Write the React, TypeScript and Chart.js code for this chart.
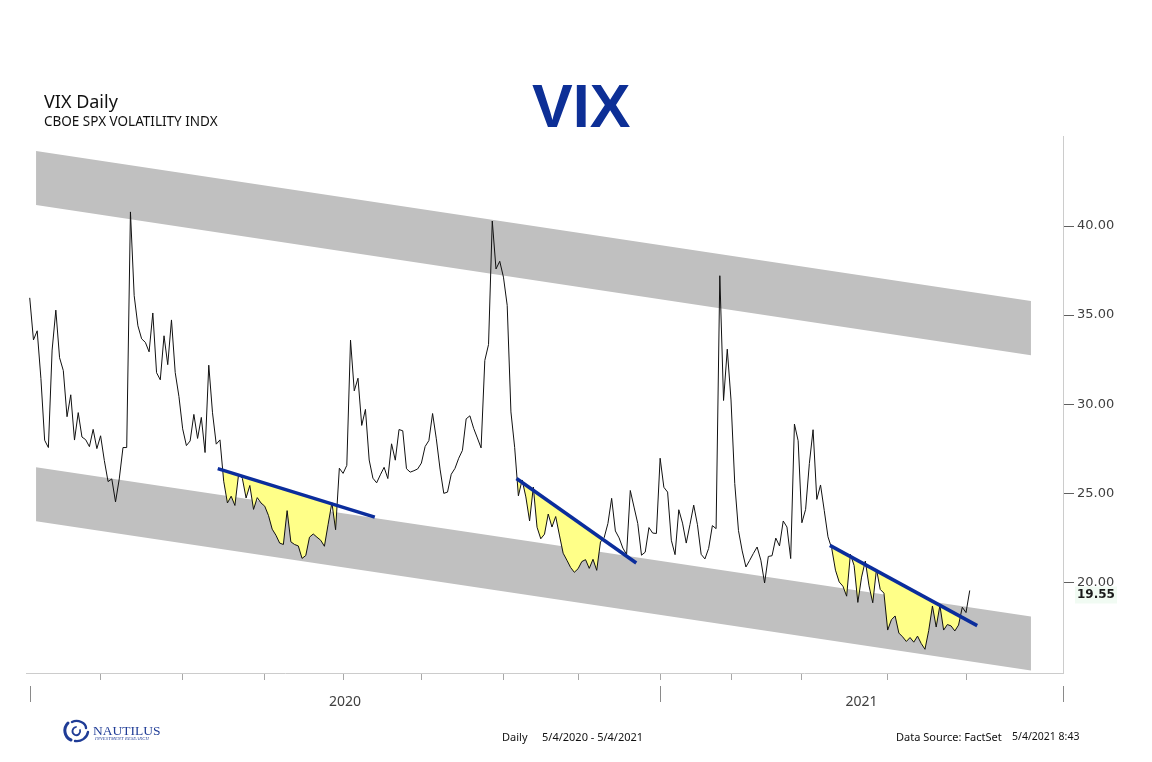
import { useEffect, useRef } from "react";
import { Chart, registerables } from "chart.js";

Chart.register(...registerables);

// VIX daily closes, 5/4/2020 .. 5/4/2021 (one value per trading day)
const vix = [
  35.97, 33.61, 34.12, 31.44, 27.98, 27.57, 33.04, 35.28, 32.61, 31.89,
  29.3, 30.53, 27.99, 29.53, 28.16, 28.01, 27.62, 28.59, 27.51,
  28.23, 26.84, 25.66, 25.81, 24.52, 25.81, 27.57, 27.57, 40.79, 36.09,
  34.4, 33.67, 33.47, 32.94, 35.12, 31.77, 31.37, 33.84, 32.22, 34.73,
  31.78, 30.43,
  28.62, 27.68, 27.94, 29.43, 28.08, 29.26, 27.29, 32.19, 29.52, 27.76,
  28.0, 25.68, 24.46, 24.84, 24.32, 26.08, 25.84, 24.74, 25.44, 24.1,
  24.76, 24.46,
  24.28, 23.76, 22.99, 22.65, 22.21, 22.13, 24.03, 22.28, 22.13, 22.05,
  21.35, 21.51, 22.54, 22.72, 22.54, 22.37, 22.03, 23.27, 24.47, 22.96,
  26.41,
  26.12, 26.57, 33.6, 30.75, 31.46, 28.81, 29.71, 26.87, 25.85, 25.59,
  26.04, 26.46, 25.83, 27.78, 26.86, 28.58, 28.51, 26.38, 26.19, 26.27,
  26.37,
  26.7, 27.63, 27.96, 29.48, 28.06, 26.36, 25.0, 25.07, 26.07, 26.4,
  26.97, 27.41, 29.18, 29.35, 28.65, 28.11, 27.55, 32.46, 33.35, 40.28,
  37.59, 38.02,
  37.13, 35.55, 29.57, 27.58, 24.86, 25.75, 24.8, 23.45, 25.35, 23.1,
  22.45, 22.71, 23.84, 23.11, 23.7, 22.66, 21.64, 21.25, 20.84, 20.57,
  20.77, 21.17, 21.28, 20.79, 21.3, 20.68, 22.27, 22.52, 23.31, 24.72,
  22.89, 22.5, 21.93, 21.57, 25.16, 24.23, 23.31, 21.53, 21.7, 23.08,
  22.77, 22.75,
  26.97, 25.34, 25.07, 22.37, 21.56, 24.08, 23.33, 22.21, 23.25, 24.34,
  23.24, 21.58, 21.32, 21.91, 23.19, 23.02, 37.21, 30.21, 33.09,
  30.24, 25.56, 22.91, 21.77, 20.87, 21.24, 21.63, 21.99, 21.25, 19.97,
  21.46, 21.5, 22.49, 22.05, 23.45, 23.11, 21.34, 28.89, 27.95,
  23.35, 24.1, 26.67, 28.57, 24.66, 25.47, 24.03, 22.56, 21.91, 20.69,
  20.03, 19.79, 19.23, 21.58, 20.95, 18.88, 20.3, 21.2, 19.81, 18.86,
  20.74, 19.61, 19.4,
  17.33, 17.91, 18.12, 17.16, 16.95, 16.69, 16.91, 16.65, 16.99, 16.57,
  16.25, 17.3, 18.68, 17.5, 18.71, 17.33, 17.64, 17.56, 17.28, 17.61,
  18.61,
  18.31, 19.55,
];

// trading days per month, May 2020 .. May 2021
const daysPerMonth = [19, 22, 22, 21, 21, 22, 20, 22, 19, 19, 23, 21, 2];
const yearLabels = ["2020", "2021"];
const yTicks = [20, 25, 30, 35, 40];

// channel bands [x index, value] for the two edges
const upperBandTop = [[1.7, 44.21], [268.4, 35.79]];
const upperBandBottom = [[1.7, 41.18], [268.4, 32.75]];
const lowerBandTop = [[1.7, 26.46], [268.4, 18.09]];
const lowerBandBottom = [[1.7, 23.43], [268.4, 15.06]];

// trendlines [x index, value]
const trend1 = [[50.4, 26.39], [92.5, 23.67]];
const trend2 = [[130.5, 25.83], [162.6, 21.09]];
const trend3 = [[214.5, 22.08], [254.0, 17.58]];

const X_MIN = -1;
const X_MAX = 277;

const monthStarts: number[] = [];
daysPerMonth.slice(0, -1).reduce((acc, d) => {
  monthStarts.push(acc + d);
  return acc + d;
}, 0);
const yearBreaks = [0, monthStarts[7], X_MAX];

const pts = (arr: number[][]) => arr.map(([x, y]) => ({ x, y }));
const vixPts = vix.map((y, x) => ({ x, y }));
const slicePts = (t: number[][]) =>
  vixPts.slice(Math.floor(t[0][0]), Math.min(vix.length, Math.ceil(t[1][0]) + 1));

const GRAY = "#c0c0c0";
const YELLOW = "#ffff88";
const BLUE = "#0b2d9c";
const NONE = "rgba(0,0,0,0)";

const edge = (data: any, fill: any, bg = GRAY) => ({
  data,
  borderColor: NONE,
  borderWidth: 0,
  backgroundColor: bg,
  pointRadius: 0,
  fill,
  order: 10,
});

const trend = (data: any) => ({
  data,
  borderColor: BLUE,
  borderWidth: 3.5,
  pointRadius: 0,
  fill: false,
  order: 1,
});

const fillTo = (data: any, target: number) => ({
  data,
  borderColor: NONE,
  borderWidth: 0,
  pointRadius: 0,
  backgroundColor: YELLOW,
  fill: { target, above: NONE, below: YELLOW },
  order: 5,
});

const overlayPlugin = {
  id: "overlay",
  afterDraw(chart: any) {
    const { ctx, chartArea, scales } = chart;
    const x = scales.x;
    const y = scales.y;
    ctx.save();
    // year separators and labels
    ctx.strokeStyle = "#8a8a8a";
    ctx.lineWidth = 1;
    yearBreaks.forEach((v) => {
      const px = Math.round(x.getPixelForValue(v)) + 0.5;
      ctx.beginPath();
      ctx.moveTo(px, chartArea.bottom + 13);
      ctx.lineTo(px, chartArea.bottom + 29);
      ctx.stroke();
    });
    ctx.fillStyle = "#404040";
    ctx.font = "14px 'Noto Sans'";
    ctx.textAlign = "center";
    ctx.textBaseline = "middle";
    yearLabels.forEach((lab, i) => {
      const mid = (x.getPixelForValue(yearBreaks[i]) + x.getPixelForValue(yearBreaks[i + 1])) / 2;
      ctx.fillText(lab, mid, chartArea.bottom + 29);
    });
    // last value tag
    const last = vix[vix.length - 1];
    const py = y.getPixelForValue(last);
    ctx.fillStyle = "#f1fbf3";
    ctx.fillRect(chartArea.right + 12, py - 4, 42, 17);
    ctx.fillStyle = "#1a1a1a";
    ctx.font = "bold 12px 'DejaVu Sans'";
    ctx.textAlign = "left";
    ctx.fillText(last.toFixed(2), chartArea.right + 14, py + 4.5);
    ctx.restore();
  },
};

export default function App() {
  const canvasRef = useRef<HTMLCanvasElement>(null);
  const chartRef = useRef<Chart | null>(null);

  useEffect(() => {
    document.body.style.margin = "0";
    if (!canvasRef.current) return;
    if (chartRef.current) chartRef.current.destroy();
    const ctx = canvasRef.current.getContext("2d");
    if (!ctx) return;

    chartRef.current = new Chart(ctx, {
      type: "line",
      data: {
        datasets: [
          edge(pts(upperBandTop), false),
          edge(pts(upperBandBottom), "-1"),
          edge(pts(lowerBandTop), false),
          edge(pts(lowerBandBottom), "-1"),
          trend(pts(trend1)),
          fillTo(slicePts(trend1), 4),
          trend(pts(trend2)),
          fillTo(slicePts(trend2), 6),
          trend(pts(trend3)),
          fillTo(slicePts(trend3), 8),
          {
            data: vixPts,
            borderColor: "#111111",
            borderWidth: 1,
            pointRadius: 0,
            fill: false,
            order: 2,
          },
        ] as any,
      },
      options: {
        animation: false,
        responsive: false,
        maintainAspectRatio: false,
        elements: { line: { tension: 0, borderJoinStyle: "miter" } },
        layout: { padding: { left: 26, top: 136, right: 0, bottom: 0 } },
        plugins: { legend: { display: false }, tooltip: { enabled: false } },
        scales: {
          x: {
            type: "linear",
            min: X_MIN,
            max: X_MAX,
            afterFit: (s: any) => {
              s.height = 89;
            },
            afterBuildTicks: (s: any) => {
              s.ticks = monthStarts.map((v) => ({ value: v }));
            },
            ticks: { display: false },
            grid: { drawOnChartArea: false, drawTicks: true, tickLength: 7, tickColor: "#a8a8a8" },
            border: { display: true, color: "#cccccc" },
          },
          y: {
            position: "right",
            min: 14.92,
            max: 45.05,
            afterFit: (s: any) => {
              s.width = 89;
            },
            afterBuildTicks: (s: any) => {
              s.ticks = yTicks.map((v) => ({ value: v }));
            },
            ticks: {
              callback: (v: any) => Number(v).toFixed(2),
              color: "#404040",
              font: { family: "'DejaVu Sans'", size: 13 },
              padding: 3,
            },
            grid: { drawOnChartArea: false, tickLength: 11, tickColor: "#606060" },
            border: { display: true, color: "#cccccc" },
          },
        },
      } as any,
      plugins: [overlayPlugin],
    });

    return () => {
      if (chartRef.current) {
        chartRef.current.destroy();
        chartRef.current = null;
      }
    };
  }, []);

  const txt = (s: any) => ({ position: "absolute" as const, whiteSpace: "nowrap" as const, lineHeight: 1, ...s });

  return (
    <div style={{ position: "absolute", left: 0, top: 0, width: 1152, height: 762, background: "#fff", overflow: "hidden" }}>
      <canvas ref={canvasRef} width={1152} height={762} style={{ position: "absolute", left: 0, top: 0, width: 1152, height: 762 }} />

      <div style={txt({ left: 44, top: 92, fontSize: 18, fontFamily: "'Noto Sans'", color: "#111" })}>VIX Daily</div>
      <div style={txt({ left: 44, top: 115, fontSize: 13.5, fontFamily: "'Noto Sans'", color: "#111" })}>CBOE SPX VOLATILITY INDX</div>
      <div style={txt({ left: 532, top: 76, fontSize: 61, fontWeight: "bold", fontFamily: "'Liberation Sans'", color: "#0d2f96" })}>VIX</div>

      {/* logo */}
      <svg style={{ position: "absolute", left: 62, top: 719 }} width={30} height={25} viewBox="0 0 30 25">
        <g fill="none" stroke="#1f3c96" strokeLinecap="round">
          <path d="M6 4 C1 9 2 18 9 21" strokeWidth={3} />
          <path d="M10 3 C16 0 24 4 24 9" strokeWidth={2.4} />
          <path d="M26 13 C25 19 19 23 13 22" strokeWidth={2.4} />
          <path d="M14 8 C10 9 9 14 13 16 C16 17 19 14 18 11" strokeWidth={1.8} />
        </g>
      </svg>
      <div style={txt({ left: 93, top: 724, fontSize: 13.5, fontFamily: "'Liberation Serif'", color: "#1f3c96" })}>NAUTILUS</div>
      <div style={txt({ left: 95, top: 737, fontSize: 4.5, fontStyle: "italic", fontFamily: "'Liberation Serif'", color: "#1f3c96", letterSpacing: 0.2 })}>INVESTMENT RESEARCH</div>

      <div style={txt({ left: 502, top: 731, fontSize: 11, fontFamily: "'Noto Sans'", color: "#111" })}>Daily</div>
      <div style={txt({ left: 542, top: 731, fontSize: 11, fontFamily: "'Noto Sans'", color: "#111" })}>5/4/2020 - 5/4/2021</div>
      <div style={txt({ left: 896, top: 731, fontSize: 11, fontFamily: "'Noto Sans'", color: "#111" })}>Data Source: FactSet</div>
      <div style={txt({ left: 1012, top: 731, fontSize: 10.5, fontFamily: "'Noto Sans'", color: "#111" })}>5/4/2021 8:43</div>
    </div>
  );
}
